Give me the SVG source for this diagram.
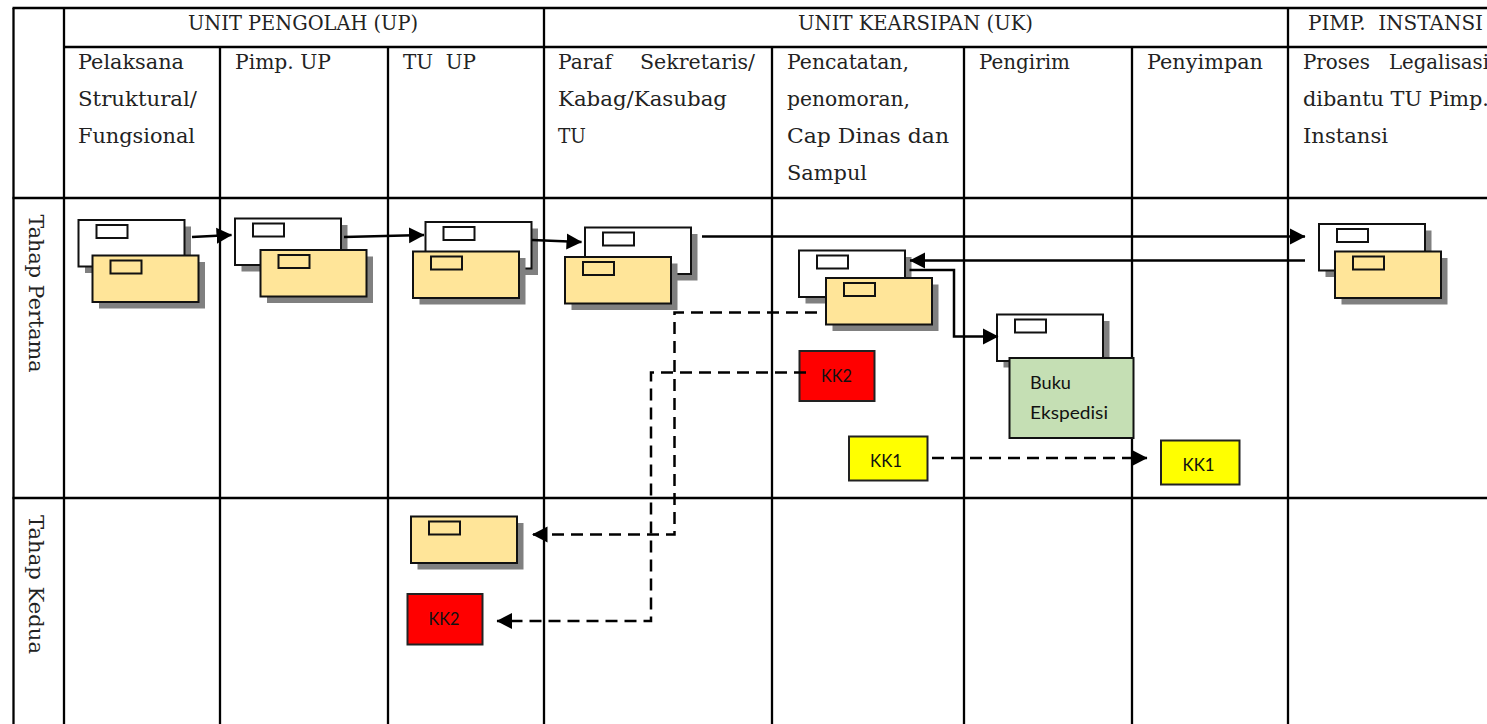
<svg xmlns="http://www.w3.org/2000/svg" width="1487" height="724" viewBox="0 0 1487 724">
<style>
.bg{fill:#fff}
.grid line{stroke:#000;stroke-width:2.3}
.t{font-family:"DejaVu Serif","Liberation Serif",serif;font-size:19.5px;fill:#222}
.c{font-family:Lato,"Noto Sans",sans-serif;font-size:17.5px;fill:#111}
.sh{fill:#808080}
.w{fill:#fff;stroke:#111;stroke-width:2}
.y{fill:#FFE599;stroke:#111;stroke-width:2}
.g{fill:#C5DFB4;stroke:#111;stroke-width:2}
.r{fill:#FF0000;stroke:#222;stroke-width:2}
.k{fill:#FFFF00;stroke:#222;stroke-width:2}
.a{fill:none;stroke:#000;stroke-width:2.5;marker-end:url(#h)}
.d{stroke-dasharray:12 7}
</style>
<defs>
<marker id="h" markerUnits="userSpaceOnUse" markerWidth="16" markerHeight="17" refX="15" refY="8.500" orient="auto"><path d="M0 0.500L15.500 8.500L0 16.500Z" fill="#000"/></marker>
<g id="ew"><rect class="sh" x="6.500" y="6.500" width="106" height="46.500"/><rect class="w" width="106" height="46.500"/><rect class="w" x="18" y="5" width="31" height="13"/></g>
<g id="ey"><rect class="sh" x="6.500" y="6.500" width="106" height="46.500"/><rect class="y" width="106" height="46.500"/><rect class="y" x="18" y="5" width="31" height="13"/></g>
</defs>
<rect class="bg" width="1487" height="724"/>
<g id="table" class="grid">
<line x1="12.500" y1="8" x2="1487" y2="8"/>
<line x1="64" y1="47" x2="1487" y2="47"/>
<line x1="12.500" y1="198" x2="1487" y2="198"/>
<line x1="12.500" y1="498" x2="1487" y2="498"/>
<line x1="13.500" y1="8" x2="13.500" y2="724"/>
<line x1="64" y1="8" x2="64" y2="724"/>
<line x1="220" y1="47" x2="220" y2="724"/>
<line x1="388" y1="47" x2="388" y2="724"/>
<line x1="544" y1="8" x2="544" y2="724"/>
<line x1="772" y1="47" x2="772" y2="724"/>
<line x1="964" y1="47" x2="964" y2="724"/>
<line x1="1132" y1="47" x2="1132" y2="724"/>
<line x1="1288" y1="8" x2="1288" y2="724"/>
</g>
<g id="labels">
<text class="t" x="188" y="29.500" textLength="230" lengthAdjust="spacingAndGlyphs">UNIT PENGOLAH (UP)</text>
<text class="t" x="798" y="29.500" textLength="235" lengthAdjust="spacingAndGlyphs">UNIT KEARSIPAN (UK)</text>
<text class="t" x="1308" y="29.500" textLength="175" lengthAdjust="spacingAndGlyphs" xml:space="preserve">PIMP.  INSTANSI</text>
<text class="t" x="78" y="68.500" textLength="106" lengthAdjust="spacingAndGlyphs">Pelaksana</text>
<text class="t" x="78" y="105.500" textLength="119" lengthAdjust="spacingAndGlyphs">Struktural/</text>
<text class="t" x="78" y="143" textLength="117" lengthAdjust="spacingAndGlyphs">Fungsional</text>
<text class="t" x="235" y="68.500" textLength="96" lengthAdjust="spacingAndGlyphs">Pimp. UP</text>
<text class="t" x="403" y="68.500" textLength="73" lengthAdjust="spacingAndGlyphs" xml:space="preserve">TU  UP</text>
<text class="t" x="558" y="68.500" textLength="54" lengthAdjust="spacingAndGlyphs">Paraf</text>
<text class="t" x="640" y="68.500" textLength="115" lengthAdjust="spacingAndGlyphs">Sekretaris/</text>
<text class="t" x="558" y="105.500" textLength="169" lengthAdjust="spacingAndGlyphs">Kabag/Kasubag</text>
<text class="t" x="558" y="143" textLength="28" lengthAdjust="spacingAndGlyphs">TU</text>
<text class="t" x="787" y="68.500" textLength="122" lengthAdjust="spacingAndGlyphs">Pencatatan,</text>
<text class="t" x="787" y="105.500" textLength="123" lengthAdjust="spacingAndGlyphs">penomoran,</text>
<text class="t" x="787" y="143" textLength="162" lengthAdjust="spacingAndGlyphs">Cap Dinas dan</text>
<text class="t" x="787" y="179.500" textLength="80" lengthAdjust="spacingAndGlyphs">Sampul</text>
<text class="t" x="979" y="68.500" textLength="91" lengthAdjust="spacingAndGlyphs">Pengirim</text>
<text class="t" x="1147" y="68.500" textLength="116" lengthAdjust="spacingAndGlyphs">Penyimpan</text>
<text class="t" x="1303" y="68.500" textLength="67" lengthAdjust="spacingAndGlyphs">Proses</text>
<text class="t" x="1389" y="68.500" textLength="100" lengthAdjust="spacingAndGlyphs">Legalisasi</text>
<text class="t" x="1303" y="105.500" textLength="186" lengthAdjust="spacingAndGlyphs">dibantu TU Pimp.</text>
<text class="t" x="1303" y="143" textLength="85" lengthAdjust="spacingAndGlyphs">Instansi</text>
<text class="t" transform="translate(29 214.500) rotate(90)" textLength="158" lengthAdjust="spacingAndGlyphs">Tahap Pertama</text>
<text class="t" transform="translate(29 515) rotate(90)" textLength="139" lengthAdjust="spacingAndGlyphs">Tahap Kedua</text>
</g>
<g id="node-pelaksana"><use href="#ew" x="78.500" y="220"/><use href="#ey" x="92.500" y="255.500"/></g>
<g id="node-pimp-up"><use href="#ew" x="235" y="218.500"/><use href="#ey" x="260.500" y="250"/></g>
<g id="node-tu-up"><use href="#ew" x="425.500" y="222"/><use href="#ey" x="413" y="251.500"/></g>
<g id="node-paraf"><use href="#ew" x="585" y="227.500"/><use href="#ey" x="565" y="257"/></g>
<g id="node-pencatatan"><use href="#ew" x="799" y="250.500"/><use href="#ey" x="826" y="278"/></g>
<g id="node-pengirim"><use href="#ew" x="997" y="314.500"/></g>
<g id="node-buku"><rect class="g" x="1009.500" y="358" width="124" height="80"/><text class="c" x="1030" y="389" textLength="41" lengthAdjust="spacingAndGlyphs">Buku</text><text class="c" x="1030" y="419" textLength="78" lengthAdjust="spacingAndGlyphs">Ekspedisi</text></g>
<g id="node-kk2-a"><rect class="r" x="799.500" y="351" width="75" height="50"/><text class="c" x="821" y="381.500" textLength="31" lengthAdjust="spacingAndGlyphs">KK2</text></g>
<g id="node-kk1-a"><rect class="k" x="849" y="436.500" width="78.500" height="44"/><text class="c" x="870" y="466.500" textLength="32" lengthAdjust="spacingAndGlyphs">KK1</text></g>
<g id="node-kk1-b"><rect class="k" x="1161" y="440.500" width="78.500" height="44"/><text class="c" x="1182.500" y="471" textLength="32" lengthAdjust="spacingAndGlyphs">KK1</text></g>
<g id="node-pimpinan"><use href="#ew" x="1319" y="224"/><use href="#ey" x="1335" y="251.500"/></g>
<g id="node-tu-up-2"><use href="#ey" x="411" y="516.500"/></g>
<g id="node-kk2-b"><rect class="r" x="407.500" y="594" width="75" height="50.500"/><text class="c" x="428.500" y="625" textLength="31" lengthAdjust="spacingAndGlyphs">KK2</text></g>
<g id="connectors">
<path class="a" d="M192 237L231.500 235"/>
<path class="a" d="M344 237L424 235"/>
<path class="a" d="M532 240L581.500 242"/>
<path class="a" d="M702 236.500L1305 236.500"/>
<path class="a" d="M1305 260.500L910 260.500"/>
<path class="a" d="M909.500 270H954V336.500H998"/>
<path class="a d" d="M817 312.500H674.500V534.500H532.500"/>
<path class="a d" d="M806 372.500H651V621H497"/>
<path class="a d" d="M932 458H1147"/>
</g>
</svg>
